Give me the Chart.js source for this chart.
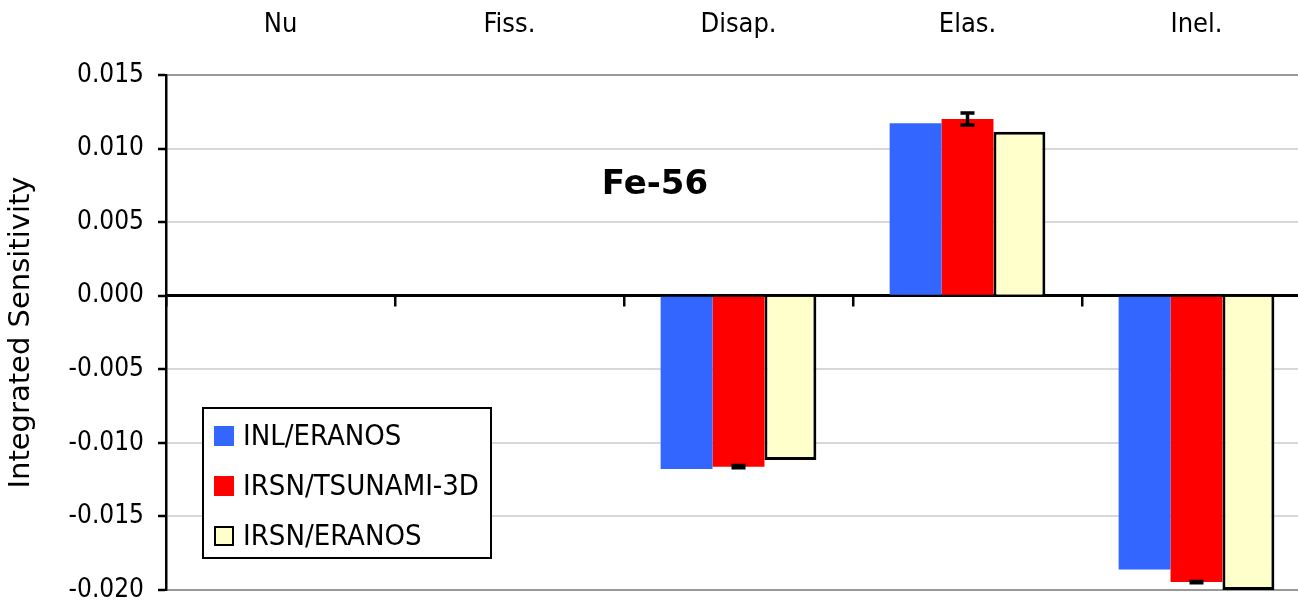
<!DOCTYPE html>
<html>
<head>
<meta charset="utf-8">
<script src="https://cdn.jsdelivr.net/npm/chart.js@4/dist/chart.umd.min.js"></script>
<style>
  html, body { margin: 0; padding: 0; background: #fff; overflow: hidden; }
  #wrap { position: relative; width: 1311px; height: 600px; }
</style>
</head>
<body>
<div id="wrap"><canvas id="c"></canvas></div>
<script>
// ---- data ----
const categories = ['Nu', 'Fiss.', 'Disap.', 'Elas.', 'Inel.'];
const seriesNames = ['INL/ERANOS', 'IRSN/TSUNAMI-3D', 'IRSN/ERANOS'];
const inlEranos   = [null, null, -0.01177, 0.01172, -0.01860];
const irsnTsunami = [null, null, -0.01162, 0.01201, -0.01946];
const irsnTsunamiErr = [null, null, 0.00008, 0.00040, 0.00004];
const irsnEranos  = [null, null, -0.01116, 0.01115, -0.02000];
const yTickValues = [-0.020, -0.015, -0.010, -0.005, 0.000, 0.005, 0.010, 0.015];
const chartTitle = 'Fe-56';
const yTitle = 'Integrated Sensitivity';

const FONT = "'DejaVu Sans Condensed', 'DejaVu Sans', sans-serif";
const TITLE_FONT = "'DejaVu Sans', sans-serif";

const errorBarPlugin = {
  id: 'errorBars',
  afterDatasetsDraw(chart) {
    const meta = chart.getDatasetMeta(1);
    const ys = chart.scales.y;
    const ctx = chart.ctx;
    ctx.save();
    ctx.strokeStyle = '#000';
    ctx.lineWidth = 3.5;
    irsnTsunamiErr.forEach((e, i) => {
      const v = irsnTsunami[i];
      if (e == null || v == null) return;
      const bar = meta.data[i];
      const x = bar.x;
      const y1 = ys.getPixelForValue(v + e);
      const y2 = ys.getPixelForValue(v - e);
      ctx.beginPath();
      ctx.moveTo(x, y1); ctx.lineTo(x, y2);
      ctx.moveTo(x - 7, y1); ctx.lineTo(x + 7, y1);
      ctx.moveTo(x - 7, y2); ctx.lineTo(x + 7, y2);
      ctx.stroke();
    });
    ctx.restore();
  }
};

const overlayPlugin = {
  id: 'overlay',
  afterDraw(chart) {
    const ctx = chart.ctx;
    const a = chart.chartArea;
    ctx.save();
    // title
    ctx.fillStyle = '#000';
    ctx.font = "bold 34px 'DejaVu Sans', sans-serif";
    ctx.textAlign = 'center';
    ctx.textBaseline = 'middle';
    ctx.fillText(chartTitle, a.left + 489, a.top + 110);
    // legend box
    const bx = a.left + 37, by = a.top + 333, bw = 288, bh = 150;
    ctx.fillStyle = '#fff';
    ctx.fillRect(bx, by, bw, bh);
    ctx.strokeStyle = '#000';
    ctx.lineWidth = 2;
    ctx.strokeRect(bx, by, bw, bh);
    ctx.font = "29px " + FONT;
    ctx.textAlign = 'left';
    ctx.textBaseline = 'middle';
    chart.data.datasets.forEach((ds, i) => {
      const cy = by + 28 + i * 50;
      ctx.fillStyle = ds.backgroundColor;
      ctx.fillRect(bx + 11, cy - 10, 20, 20);
      if (ds.borderWidth) {
        ctx.strokeStyle = ds.borderColor;
        ctx.lineWidth = 2;
        ctx.strokeRect(bx + 12, cy - 9, 18, 18);
      }
      ctx.fillStyle = '#000';
      ctx.fillText(ds.label, bx + 40, cy + 1);
    });
    ctx.restore();
  }
};

new Chart(document.getElementById('c'), {
  type: 'bar',
  data: {
    labels: categories,
    datasets: [
      { label: seriesNames[0], data: inlEranos, backgroundColor: '#3366FF', borderWidth: 0 },
      { label: seriesNames[1], data: irsnTsunami, backgroundColor: '#FF0000', borderWidth: 0 },
      { label: seriesNames[2], data: irsnEranos, backgroundColor: '#FFFFCC', borderColor: '#000', borderWidth: 3 }
    ]
  },
  plugins: [errorBarPlugin, overlayPlugin],
  options: {
    responsive: true,
    maintainAspectRatio: false,
    animation: false,
    layout: { padding: { top: 0, left: 0, right: 0, bottom: 10 } },
    plugins: { legend: { display: false }, tooltip: { enabled: false } },
    datasets: { bar: { categoryPercentage: 0.68, barPercentage: 1.0 } },
    scales: {
      x: {
        position: 'top',
        offset: true,
        grid: { display: false },
        border: { display: false },
        ticks: { color: '#000', font: { family: FONT, size: 27 }, padding: 26 },
        afterFit(s) { s.height = 75; s.paddingLeft = 0; s.paddingRight = 0; }
      },
      x2: {
        type: 'category',
        labels: categories,
        position: { y: 0 },
        offset: true,
        grid: { offset: true, drawOnChartArea: false, color: '#000', lineWidth: 2.5, tickLength: 10 },
        border: { display: true, color: '#000', width: 2.5 },
        ticks: { display: false }
      },
      y: {
        min: -0.020,
        max: 0.015,
        afterBuildTicks(s) { s.ticks = yTickValues.map(v => ({ value: v })); },
        afterFit(s) { s.width = 166; s.paddingTop = 0; s.paddingBottom = 0; },
        border: { display: true, color: '#000', width: 2.5 },
        grid: {
          color(ctx) {
            const v = ctx.tick ? ctx.tick.value : 0;
            if (Math.abs(v) < 1e-9) return '#000';
            if (Math.abs(v - 0.015) < 1e-9 || Math.abs(v + 0.020) < 1e-9) return '#999';
            return '#d8d8d8';
          },
          lineWidth: 2,
          tickColor: '#000',
          tickWidth: 2.5,
          tickLength: 8
        },
        ticks: {
          color: '#000',
          font: { family: FONT, size: 26 },
          padding: 14,
          callback: v => (Math.abs(v) < 1e-9 ? 0 : v).toFixed(3)
        },
        title: {
          display: true,
          text: yTitle,
          color: '#000',
          font: { family: TITLE_FONT, size: 29 },
          padding: { top: 4, bottom: 0 }
        }
      }
    }
  }
});
</script>
</body>
</html>
